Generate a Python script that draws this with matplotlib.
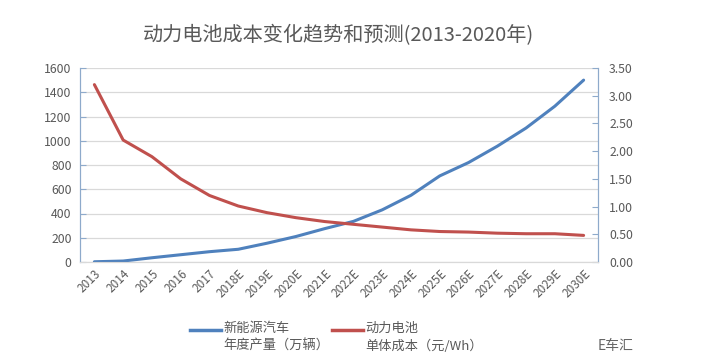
import matplotlib
matplotlib.use("Agg")
import matplotlib.pyplot as plt
from matplotlib.lines import Line2D

plt.rcParams['font.family'] = ['Noto Sans CJK SC', 'DejaVu Sans']

years = ["2013", "2014", "2015", "2016", "2017", "2018E", "2019E", "2020E", "2021E",
         "2022E", "2023E", "2024E", "2025E", "2026E", "2027E", "2028E", "2029E", "2030E"]
nev_output = [2, 8, 35, 60, 85, 105, 155, 210, 275, 335, 430, 550, 710, 820, 955, 1105, 1285, 1500]
battery_cost = [3.2, 2.2, 1.9, 1.5, 1.2, 1.01, 0.89, 0.8, 0.73, 0.68, 0.63, 0.58, 0.55, 0.54, 0.52, 0.51, 0.51, 0.48]
left_ticks = [0, 200, 400, 600, 800, 1000, 1200, 1400, 1600]
right_ticks = [0.0, 0.5, 1.0, 1.5, 2.0, 2.5, 3.0, 3.5]

title = "动力电池成本变化趋势和预测(2013-2020年)"
label_nev = "新能源汽车\n年度产量（万辆）"
label_bat = "动力电池\n单体成本（元/Wh）"

blue = "#4f81bd"
red = "#c0504d"
txt = "#595959"
spine_c = "#8eaacb"

fig = plt.figure(figsize=(7.11, 3.64), dpi=100)
ax = fig.add_axes([80/711, 1-262/364, 518/711, 194/364])
ax2 = ax.twinx()

x = list(range(len(years)))
ax.plot(x, nev_output, color=blue, lw=2.2, solid_capstyle='round', zorder=3)
ax2.plot(x, battery_cost, color=red, lw=2.2, solid_capstyle='round', zorder=3)

ax.set_xlim(-0.5, len(years) - 0.5)
ax.set_ylim(0, 1600)
ax2.set_ylim(0, 3.5)
ax.set_yticks(left_ticks)
ax.set_yticklabels([str(v) for v in left_ticks])
ax2.set_yticks(right_ticks)
ax2.set_yticklabels([f"{v:.2f}" for v in right_ticks])
ax.set_xticks(x)
ax.set_xticklabels(years, rotation=45, ha='right', va='top', rotation_mode='anchor')

ax.grid(axis='y', color='#d9d9d9', lw=0.9)
ax.set_axisbelow(True)

for a in (ax, ax2):
    a.spines['top'].set_visible(False)
    a.spines['bottom'].set_color('#d9d9d9')
    a.spines['left'].set_color(spine_c)
    a.spines['right'].set_color(spine_c)
    a.tick_params(colors=txt, labelsize=8.8)
ax.tick_params(axis='y', direction='in', length=4, color=spine_c, pad=6)
ax2.tick_params(axis='y', direction='in', length=4, color=spine_c, pad=8)
ax.tick_params(axis='x', length=0, pad=4, labelsize=8.5)

fig.text(338/711, 1-36/364, title, ha='center', va='center', fontsize=14.5, color=txt)

# Legend (manual)
fig.add_artist(Line2D([190/711, 221/711], [1-330/364, 1-330/364], color=blue, lw=2.5))
fig.text(223/711, 1-322/364, label_nev, ha='left', va='top', fontsize=9.5, color=txt,
         linespacing=1.45)
fig.add_artist(Line2D([332/711, 363/711], [1-330/364, 1-330/364], color=red, lw=2.5))
fig.text(365/711, 1-322/364, label_bat, ha='left', va='top', fontsize=9.5, color=txt,
         linespacing=1.45)

fig.text(598/711, 1-346/364, "E车汇", ha='left', va='center', fontsize=10, color='#666666')

fig.savefig("out.png", dpi=100, facecolor='white')
